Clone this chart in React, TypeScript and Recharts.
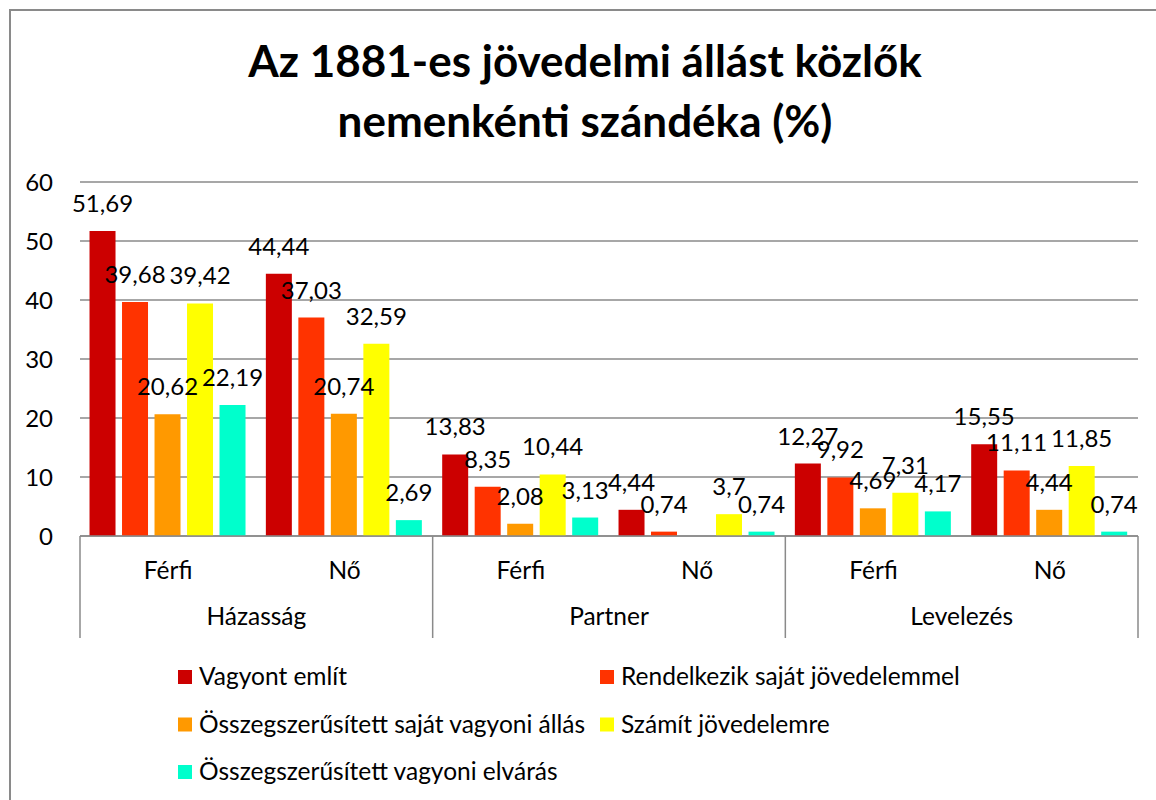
import { BarChart, Bar, XAxis, YAxis, CartesianGrid, LabelList } from "recharts";

const subCategories = ["Férfi", "Nő", "Férfi", "Nő", "Férfi", "Nő"];
const groups = ["Házasság", "Partner", "Levelezés"];

const seriesNames = [
  "Vagyont említ",
  "Rendelkezik saját jövedelemmel",
  "Összegszerűsített saját vagyoni állás",
  "Számít jövedelemre",
  "Összegszerűsített vagyoni elvárás",
];
const seriesColors = ["#CC0000", "#FF3300", "#FF9900", "#FFFF00", "#00FFCC"];

const vagyontEmlit = [51.69, 44.44, 13.83, 4.44, 12.27, 15.55];
const sajatJovedelem = [39.68, 37.03, 8.35, 0.74, 9.92, 11.11];
const sajatVagyoniAllas = [20.62, 20.74, 2.08, 0, 4.69, 4.44];
const szamitJovedelemre = [39.42, 32.59, 10.44, 3.7, 7.31, 11.85];
const vagyoniElvaras = [22.19, 2.69, 3.13, 0.74, 4.17, 0.74];

const yTicks = [0, 10, 20, 30, 40, 50, 60];

const seriesValues = [
  vagyontEmlit,
  sajatJovedelem,
  sajatVagyoniAllas,
  szamitJovedelemre,
  vagyoniElvaras,
];

const data = subCategories.map((sub, i) => {
  const row: Record<string, number | string> = { idx: i, sub };
  seriesValues.forEach((vals, s) => {
    row["s" + s] = vals[i];
  });
  return row;
});

const FONT = "Lato, 'Open Sans', sans-serif";
const TEXT_SIZE = 24.5;
const GRID = "#8a8a8a";
const PLOT_LEFT = 80;
const PLOT_RIGHT = 1138;
const BAND = (PLOT_RIGHT - PLOT_LEFT) / subCategories.length;

const fmt = (v: any) => String(v).replace(".", ",");

function CategoryTick(props: any) {
  const { x, y, payload } = props;
  const i = Number(payload.value);
  return (
    <g>
      <text x={x} y={y + 43} textAnchor="middle" fontSize={TEXT_SIZE} fill="#000" fontFamily={FONT}>
        {subCategories[i]}
      </text>
      {i % 2 === 0 && (
        <>
          <text x={x + BAND / 2} y={y + 89} textAnchor="middle" fontSize={TEXT_SIZE} fill="#000" fontFamily={FONT}>
            {groups[i / 2]}
          </text>
          <line x1={x - BAND / 2} x2={x - BAND / 2} y1={y} y2={y + 102} stroke={GRID} strokeWidth={1.5} />
        </>
      )}
      {i === subCategories.length - 1 && (
        <line x1={x + BAND / 2} x2={x + BAND / 2} y1={y} y2={y + 102} stroke={GRID} strokeWidth={1.5} />
      )}
    </g>
  );
}

export default function App() {
  return (
    <div style={{ position: "absolute", left: 0, top: 0, width: 1156, height: 800, overflow: "hidden", background: "#fff" }}>
      {/* chart area border */}
      <div
        style={{
          position: "absolute",
          left: 9,
          top: 9,
          width: 1200,
          height: 900,
          borderLeft: `2px solid ${GRID}`,
          borderTop: `2px solid ${GRID}`,
        }}
      />
      <BarChart
        width={1156}
        height={800}
        data={data}
        margin={{ top: 182, right: 1156 - PLOT_RIGHT, left: 10, bottom: 160 }}
        barCategoryGap="5.4%"
        barGap={6.5}
      >
        <CartesianGrid vertical={false} stroke={GRID} strokeWidth={1.5} />
        <XAxis
          dataKey="idx"
          type="category"
          interval={0}
          height={104}
          tickLine={false}
          tickSize={0}
          tickMargin={0}
          axisLine={{ stroke: GRID, strokeWidth: 1.5 }}
          tick={<CategoryTick />}
        />
        <YAxis
          width={PLOT_LEFT - 10}
          domain={[0, 60]}
          ticks={yTicks}
          interval={0}
          axisLine={false}
          tickLine={false}
          tickSize={0}
          tickMargin={27}
          tick={{ fontSize: 24, fill: "#000", fontFamily: FONT }}
        />
        {seriesNames.map((name, s) => (
          <Bar key={name} dataKey={"s" + s} name={name} fill={seriesColors[s]} isAnimationActive={false}>
            <LabelList
              dataKey={"s" + s}
              position="top"
              offset={19}
              formatter={fmt}
              style={{ fontSize: 24, fill: "#000", fontFamily: FONT }}
            />
          </Bar>
        ))}
      </BarChart>
      <svg width={1156} height={800} style={{ position: "absolute", left: 0, top: 0, pointerEvents: "none" }}>
        <text x={585} y={77} textAnchor="middle" fontSize={44} fontWeight={700} fontFamily={FONT} fill="#000">
          Az 1881-es jövedelmi állást közlők
        </text>
        <text x={585} y={137} textAnchor="middle" fontSize={44} fontWeight={700} fontFamily={FONT} fill="#000">
          nemenkénti szándéka (%)
        </text>
        {seriesNames.map((name, s) => {
          const col = s % 2;
          const row = Math.floor(s / 2);
          const sx = col === 0 ? 178 : 600;
          const cy = 677 + row * 47.5;
          return (
            <g key={name}>
              <rect x={sx} y={cy - 7} width={14} height={14} fill={seriesColors[s]} />
              <text x={sx + 21} y={cy + 8} fontSize={TEXT_SIZE} fontFamily={FONT} fill="#000">
                {name}
              </text>
            </g>
          );
        })}
      </svg>
    </div>
  );
}
